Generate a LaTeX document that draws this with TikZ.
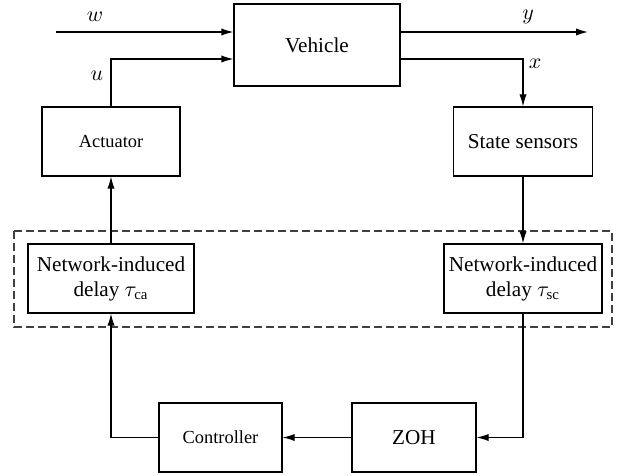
\documentclass[tikz,border=0pt]{standalone}
\usepackage{amsmath}
\usepackage{fontspec}
\setmainfont{Liberation Serif}
\usepackage{tikz}
\usetikzlibrary{arrows.meta}

\tikzset{
  blk/.style={draw, line width=0.6pt, align=center, inner sep=1pt,
    font=\fontsize{10.6}{12.5}\selectfont},
  smallblk/.style={blk, font=\fontsize{9.2}{11}\selectfont},
  sig/.style={line width=0.6pt},
  lbl/.style={font=\fontsize{10.6}{12.5}\selectfont}
}

\begin{document}
\begin{tikzpicture}[x=0.5pt, y=-0.5pt, >={Latex[length=6pt,width=3.6pt]}]
\useasboundingbox (0,0) rectangle (619,475);
% plant and its neighbours
\node[blk, minimum width=83pt, minimum height=41pt] (veh) at (317,45) {Vehicle};
\node[smallblk, minimum width=69pt, minimum height=34.5pt] (act) at (111,141.5) {Actuator};
\node[blk, minimum width=69.5pt, minimum height=34.5pt] (sens) at (523,141.5) {State sensors};
% network part
\node[blk, minimum width=83pt, minimum height=34.5pt] (netca) at (111,278.5) {Network-induced\\delay $\tau_{\mathrm{ca}}$};
\node[blk, minimum width=79pt, minimum height=34.5pt] (netsc) at (523,278.5) {Network-induced\\delay $\tau_{\mathrm{sc}}$};
\draw[black!75, line width=0.6pt, dash pattern=on 3.8pt off 2.2pt] (14,231) rectangle (612,327);
% controller side
\node[smallblk, minimum width=61.5pt, minimum height=34.5pt] (ctrl) at (220.5,437.5) {Controller};
\node[blk, minimum width=62pt, minimum height=34.5pt] (zoh) at (414,437.5) {ZOH};
\coordinate (win) at (56,32) ;
\coordinate (yout) at (588,32) ;
% signals
\draw[sig,->] (win) -- (win -| veh.west) ;
\draw[sig,->] (act.north) |- ([yshift=-7pt]veh.west) ;
\draw[sig,->] ([yshift=6.5pt]veh.east) -- (yout) ;
\draw[sig,->] ([yshift=-7pt]veh.east) -| (sens.north) ;
\draw[sig,->] (sens.south) -- (netsc.north) ;
\draw[sig,->] (netsc.south) |- (zoh.east) ;
\draw[sig,->] (zoh.west) -- (ctrl.east) ;
\draw[sig,->] (ctrl.west) -| (netca.south) ;
\draw[sig,->] (netca.north) -- (act.south) ;
\node[lbl] at (95,17) {$w$} ;
\node[lbl] at (97,76) {$u$} ;
\node[lbl] at (528,17) {$y$} ;
\node[lbl] at (535,64) {$x$} ;
\end{tikzpicture}
\end{document}
